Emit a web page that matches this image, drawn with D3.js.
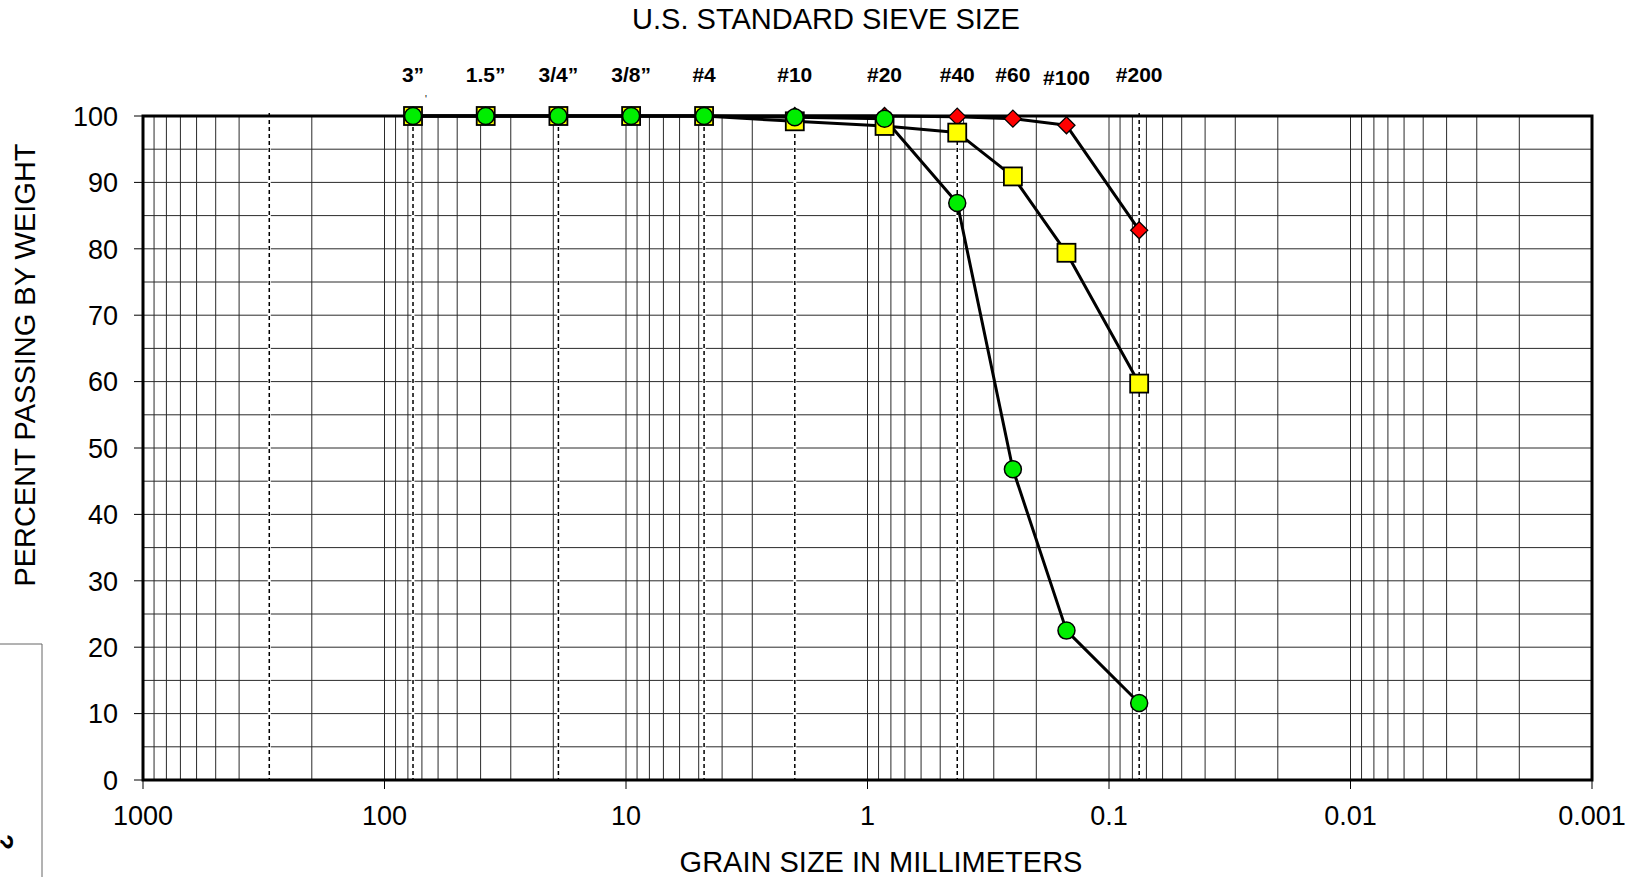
<!DOCTYPE html>
<html>
<head>
<meta charset="utf-8">
<script src="https://cdn.jsdelivr.net/npm/d3@7"></script>
<style>
    body { margin: 0; background: #fff; }
    svg text { font-family: "Liberation Sans", Arial, sans-serif; fill: #000; }
</style>
</head>
<body>
<div id="chart"></div>
<script>
// sieve openings (mm) and their labels
const sieveLabels = ["3\u201d", "1.5\u201d", "3/4\u201d", "3/8\u201d", "#4", "#10", "#20", "#40", "#60", "#100", "#200"];
const sieveSizes = [76.2, 38.1, 19.05, 9.525, 4.75, 2.0, 0.85, 0.425, 0.25, 0.15, 0.075];

// percent passing for each sample
const sampleRed = [100, 100, 100, 100, 100, 100, 100, 99.9, 99.6, 98.6, 82.8];
const sampleYellow = [100, 100, 100, 100, 100, 99.2, 98.5, 97.5, 90.9, 79.4, 59.7];
const sampleGreen = [100, 100, 100, 100, 100, 99.8, 99.6, 86.9, 46.8, 22.5, 11.6];

// soil class boundaries (dashed lines), mm
const boundaries = [300, 76.2, 19.05, 4.75, 2.0, 0.425, 0.075];

const xTickValues = [1000, 100, 10, 1, 0.1, 0.01, 0.001];
const xTickLabels = ["1000", "100", "10", "1", "0.1", "0.01", "0.001"];
const yTickValues = [0, 10, 20, 30, 40, 50, 60, 70, 80, 90, 100];

const width = 1648, height = 877;
const plotLeft = 143, plotRight = 1592, plotTop = 116, plotBottom = 780;

const svg = d3.select("#chart").append("svg")
    .attr("width", width).attr("height", height);

const x = d3.scaleLog().domain([1000, 0.001]).range([plotLeft, plotRight]);
const y = d3.scaleLinear().domain([0, 100]).range([plotBottom, plotTop]);

// grid
let grid = svg.append("g").attr("id", "grid");
grid.selectAll("line.v").data(x.ticks()).enter().append("line")
    .attr("class", "v")
    .attr("x1", d => x(d)).attr("x2", d => x(d))
    .attr("y1", plotTop).attr("y2", plotBottom)
    .attr("stroke", "#2a2a2a").attr("stroke-width", 1);
grid.selectAll("line.h").data(d3.range(5, 100, 5)).enter().append("line")
    .attr("class", "h")
    .attr("x1", plotLeft).attr("x2", plotRight)
    .attr("y1", d => y(d)).attr("y2", d => y(d))
    .attr("stroke", "#2a2a2a").attr("stroke-width", 1);

// dashed class boundaries
let dashes = svg.append("g").attr("id", "boundaries");
dashes.selectAll("line.bg").data(boundaries).enter().append("line")
    .attr("class", "bg")
    .attr("x1", d => x(d)).attr("x2", d => x(d))
    .attr("y1", plotTop - 3).attr("y2", plotBottom)
    .attr("stroke", "#fff").attr("stroke-width", 3);
dashes.selectAll("line.fg").data(boundaries).enter().append("line")
    .attr("class", "fg")
    .attr("x1", d => x(d)).attr("x2", d => x(d))
    .attr("y1", plotTop - 3).attr("y2", plotBottom)
    .attr("stroke", "#000").attr("stroke-width", 1.5)
    .attr("stroke-dasharray", "4,3");

// ticks
svg.append("g").selectAll("line").data(yTickValues).enter().append("line")
    .attr("x1", plotLeft - 9).attr("x2", plotLeft)
    .attr("y1", d => y(d)).attr("y2", d => y(d))
    .attr("stroke", "#000").attr("stroke-width", 1);
svg.append("g").selectAll("line").data(xTickValues).enter().append("line")
    .attr("x1", d => x(d)).attr("x2", d => x(d))
    .attr("y1", plotBottom).attr("y2", plotBottom + 9)
    .attr("stroke", "#000").attr("stroke-width", 1);

// frame
svg.append("rect")
    .attr("x", plotLeft).attr("y", plotTop)
    .attr("width", plotRight - plotLeft).attr("height", plotBottom - plotTop)
    .attr("fill", "none").attr("stroke", "#000").attr("stroke-width", 3);

// tick labels
svg.append("g").selectAll("text").data(yTickValues).enter().append("text")
    .attr("x", 118).attr("y", d => y(d))
    .attr("dy", "0.36em")
    .attr("text-anchor", "end")
    .style("font-size", "27px")
    .text(d => d);
svg.append("g").selectAll("text").data(xTickValues).enter().append("text")
    .attr("x", d => x(d)).attr("y", 815)
    .attr("dy", "0.36em")
    .attr("text-anchor", "middle")
    .style("font-size", "27px")
    .text((d, i) => xTickLabels[i]);

// sieve labels
svg.append("g").selectAll("text").data(sieveSizes).enter().append("text")
    .attr("x", d => x(d)).attr("y", (d, i) => sieveLabels[i] === "#100" ? 77 : 74)
    .attr("dy", "0.36em")
    .attr("text-anchor", "middle")
    .style("font-size", "21px").style("font-weight", "bold")
    .text((d, i) => sieveLabels[i]);
// small stray tick mark under the 3" label
svg.append("text").attr("x", x(sieveSizes[0]) + 12).attr("y", 103)
    .style("font-size", "10px").text("'");

// titles
svg.append("text").attr("x", 826).attr("y", 19).attr("dy", "0.36em")
    .attr("text-anchor", "middle").style("font-size", "29px")
    .text("U.S. STANDARD SIEVE SIZE");
svg.append("text").attr("x", 881).attr("y", 862).attr("dy", "0.36em")
    .attr("text-anchor", "middle").style("font-size", "29px")
    .text("GRAIN SIZE IN MILLIMETERS");
svg.append("text").attr("transform", "translate(25,365) rotate(-90)").attr("dy", "0.36em")
    .attr("text-anchor", "middle").style("font-size", "29px")
    .text("PERCENT PASSING BY WEIGHT");

// stray box at lower left
svg.append("path")
    .attr("d", "M0,644H42V877")
    .attr("fill", "none").attr("stroke", "#666").attr("stroke-width", 1);
svg.append("text").attr("transform", "translate(-5,842) rotate(90)")
    .attr("text-anchor", "middle").style("font-size", "26px").style("font-weight", "bold")
    .text("?");

// series
const series = [
    { values: sampleRed, shape: "diamond", fill: "#ff0000" },
    { values: sampleYellow, shape: "square", fill: "#ffff00" },
    { values: sampleGreen, shape: "circle", fill: "#00ee00" }
];

let line = d3.line().x(d => x(d.size)).y(d => y(d.pass));
let linesG = svg.append("g").attr("id", "lines");
series.forEach(s => {
    let pts = sieveSizes.map((size, i) => ({ size: size, pass: s.values[i] }));
    linesG.append("path").datum(pts)
        .attr("d", line)
        .attr("fill", "none").attr("stroke", "#000").attr("stroke-width", 3)
        .attr("stroke-linejoin", "round");
});

let markersG = svg.append("g").attr("id", "markers");
series.forEach(s => {
    let pts = sieveSizes.map((size, i) => ({ size: size, pass: s.values[i] }));
    let g = markersG.append("g");
    if (s.shape === "circle") {
        g.selectAll("circle").data(pts).enter().append("circle")
            .attr("cx", d => x(d.size)).attr("cy", d => y(d.pass)).attr("r", 8.5)
            .attr("fill", s.fill).attr("stroke", "#000").attr("stroke-width", 1.5);
    } else if (s.shape === "square") {
        g.selectAll("rect").data(pts).enter().append("rect")
            .attr("x", d => x(d.size) - 9).attr("y", d => y(d.pass) - 9)
            .attr("width", 18).attr("height", 18)
            .attr("fill", s.fill).attr("stroke", "#000").attr("stroke-width", 1.8);
    } else {
        g.selectAll("path").data(pts).enter().append("path")
            .attr("d", d => {
                let cx = x(d.size), cy = y(d.pass), r = 8.5;
                return `M${cx},${cy - r}L${cx + r},${cy}L${cx},${cy + r}L${cx - r},${cy}Z`;
            })
            .attr("fill", s.fill).attr("stroke", "#000").attr("stroke-width", 1.3);
    }
});
</script>
</body>
</html>
